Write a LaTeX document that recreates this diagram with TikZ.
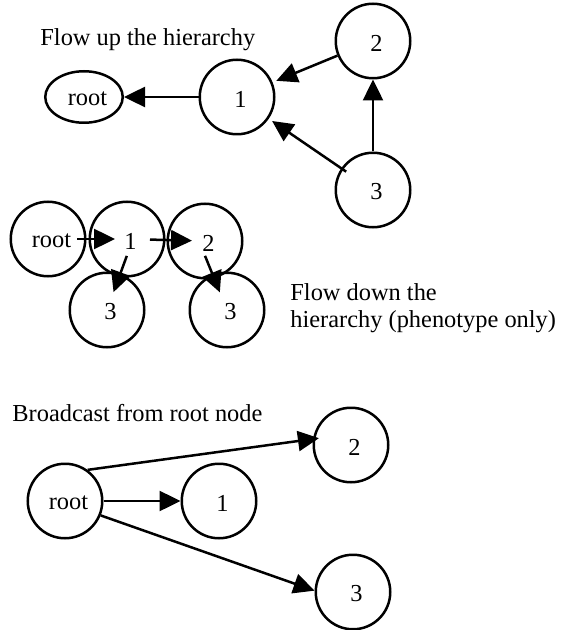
\documentclass[tikz,border=0pt]{standalone}
\usepackage{fontspec}
\setmainfont{Liberation Serif}
\usetikzlibrary{arrows.meta,shapes.geometric}
\begin{document}
\begin{tikzpicture}[x=0.5pt,y=-0.5pt,
  every node/.style={font=\fontsize{12.2}{13.5}\selectfont},
  circ/.style={draw,circle,line width=1.25pt,minimum size=37.25pt,inner sep=0pt},
  oval/.style={draw,ellipse,line width=1.25pt,minimum width=38.75pt,minimum height=25.75pt,inner sep=0pt},
  lbl/.style={xshift=1.75pt,yshift=-1pt,inner sep=0pt},
  arr/.style={line width=1.25pt,-{Triangle[length=10.5pt,width=10pt]}},
  title/.style={anchor=west,inner sep=0pt,align=left}]
\useasboundingbox (0,0) rectangle (561,630);
% top: flow up
\node[title] (t1) at (40,40) {Flow up the hierarchy};
\node[oval,label={[lbl]center:root}] (rA) at (84,97) {};
\node[circ,label={[lbl]center:1}] (a1) at (237,97) {};
\node[circ,label={[lbl]center:2}] (a2) at (373,41) {};
\node[circ,label={[lbl]center:3}] (a3) at (373,190) {};
\draw[arr] (a1) -- (rA);
\draw[arr,shorten >=2pt] (a2) -- (a1);
\draw[arr,shorten <=-3pt,shorten >=2pt] (a3) -- (a1);
\draw[arr] (a3) -- (a2);
% middle: flow down
\node[circ,label={[lbl]center:root}] (rB) at (48,239) {};
\node[circ,label={[lbl]center:1}] (b1) at (127,239) {};
\node[circ,label={[lbl]center:2}] (b2) at (205,241) {};
\node[circ,label={[lbl]center:3}] (b3) at (107,310) {};
\node[circ,label={[lbl]center:3}] (b4) at (227,310) {};
\draw[arr,shorten <=14.5pt,shorten >=6pt] (rB.center) -- (b1.center);
\draw[arr,shorten <=11.5pt,shorten >=6.5pt] (b1.center) -- (b2.center);
\draw[arr,shorten <=9pt,shorten >=9.5pt] ([xshift=3pt]b1.center) -- (b3.center);
\draw[arr,shorten <=8pt,shorten >=9.5pt] ([xshift=-3pt]b2.center) -- (b4.center);
\node[title] (t2) at (290,308.5) {Flow down the\\hierarchy (phenotype only)};
% bottom: broadcast
\node[title] (t3) at (12,413) {Broadcast from root node};
\node[circ,label={[lbl]center:root}] (rC) at (65,501) {};
\node[circ,label={[lbl]center:1}] (c1) at (219,501) {};
\node[circ,label={[lbl]center:2}] (c2) at (351,445) {};
\node[circ,label={[lbl]center:3}] (c3) at (353,592) {};
\draw[arr] (rC) -- (c1);
\draw[arr,shorten >=-3pt] (rC.54) -- (c2.171);
\draw[arr] (rC.-22) -- (c3.178);
\end{tikzpicture}
\end{document}
